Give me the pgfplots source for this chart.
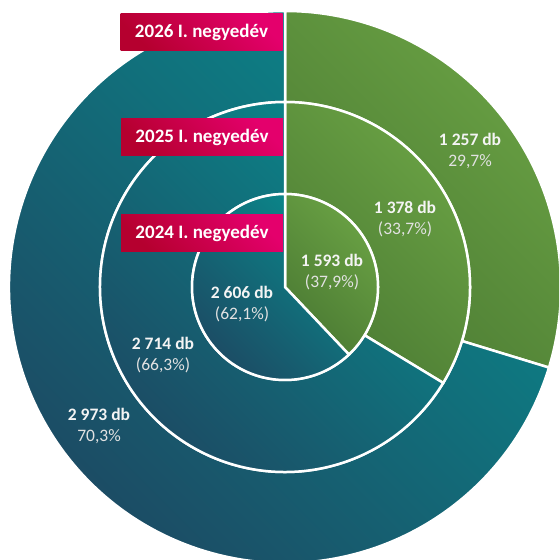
\documentclass[border=0pt]{standalone}
\usepackage{pgfplots}
\pgfplotsset{compat=1.18}
\usepackage{pgfplotstable}
\usepackage{fontspec}
\setmainfont{Carlito}
\definecolor{gL}{HTML}{6AA244}
\definecolor{gD}{HTML}{4B7A33}
\definecolor{tL}{HTML}{0A878A}
\definecolor{tD}{HTML}{1D4862}
\definecolor{rL}{HTML}{E4006C}
\definecolor{rD}{HTML}{B5002F}
\definecolor{lbl}{HTML}{F4F4F4}
\definecolor{lbp}{HTML}{E2E2E2}

% ring: 0 = 2024 (inner), 1 = 2025 (middle), 2 = 2026 (outer)
\pgfplotstableread{
ring green teal
0 1593 2606
1 1378 2714
2 1257 2973
}\rings

\begin{document}
\begin{tikzpicture}
\pgfplotstablegetelem{0}{green}\of\rings\pgfmathsetmacro\gA{\pgfplotsretval}
\pgfplotstablegetelem{0}{teal}\of\rings\pgfmathsetmacro\tA{\pgfplotsretval}
\pgfplotstablegetelem{1}{green}\of\rings\pgfmathsetmacro\gB{\pgfplotsretval}
\pgfplotstablegetelem{1}{teal}\of\rings\pgfmathsetmacro\tB{\pgfplotsretval}
\pgfplotstablegetelem{2}{green}\of\rings\pgfmathsetmacro\gC{\pgfplotsretval}
\pgfplotstablegetelem{2}{teal}\of\rings\pgfmathsetmacro\tC{\pgfplotsretval}
\pgfmathsetmacro\aA{90-360*(\gA/(\gA+\tA))}
\pgfmathsetmacro\aB{90-360*(\gB/(\gB+\tB))}
\pgfmathsetmacro\aC{90-360*(\gC/(\gC+\tC))}
\begin{axis}[width=559bp,height=560bp,scale only axis,
  xmin=-285,xmax=274,ymin=-273,ymax=287,hide axis,clip=true]
\clip (rel axis cs:0,0) rectangle (rel axis cs:1,1);
\tikzset{seg/.style={draw=white,line width=2.5bp},
  grn/.style={seg,top color=gL,bottom color=gD,shading angle=-45},
  tea/.style={seg,top color=tL,bottom color=tD,shading angle=-45}}
% outer ring (2026)
\shadedraw[grn] (axis cs:0,0) ++(90:276bp)
  arc[start angle=90,end angle=\aC,radius=276bp] -- ++(\aC:-91bp)
  arc[start angle=\aC,end angle=90,radius=185bp] -- cycle;
\shadedraw[tea] (axis cs:0,0) ++(\aC:276bp)
  arc[start angle=\aC,end angle=-270,radius=276bp] -- ++(-270:-91bp)
  arc[start angle=-270,end angle=\aC,radius=185bp] -- cycle;
% middle ring (2025)
\shadedraw[grn] (axis cs:0,0) ++(90:185bp)
  arc[start angle=90,end angle=\aB,radius=185bp] -- ++(\aB:-92bp)
  arc[start angle=\aB,end angle=90,radius=93bp] -- cycle;
\shadedraw[tea] (axis cs:0,0) ++(\aB:185bp)
  arc[start angle=\aB,end angle=-270,radius=185bp] -- ++(-270:-92bp)
  arc[start angle=-270,end angle=\aB,radius=93bp] -- cycle;
% inner pie (2024)
\shadedraw[grn] (axis cs:0,0) -- ++(90:93bp)
  arc[start angle=90,end angle=\aA,radius=93bp] -- cycle;
\shadedraw[tea] (axis cs:0,0) -- ++(\aA:93bp)
  arc[start angle=\aA,end angle=-270,radius=93bp] -- cycle;
% data labels
\tikzset{dl/.style={font=\fontsize{17.5bp}{21bp}\selectfont,text=lbl,align=center,inner sep=0pt}}
\node[dl] at (axis cs:185,136.5) {\textbf{1 257 db}\\\textcolor{lbp}{29,7\%}};
\node[dl] at (axis cs:-186,-138.5) {\textbf{2 973 db}\\\textcolor{lbp}{70,3\%}};
\node[dl] at (axis cs:120,68) {\textbf{1 378 db}\\\textcolor{lbp}{(33,7\%)}};
\node[dl] at (axis cs:-122,-68.5) {\textbf{2 714 db}\\\textcolor{lbp}{(66,3\%)}};
\node[dl] at (axis cs:47,15) {\textbf{1 593 db}\\\textcolor{lbp}{(37,9\%)}};
\node[dl] at (axis cs:-43,-17.5) {\textbf{2 606 db}\\\textcolor{lbp}{(62,1\%)}};
% ring titles
\tikzset{bx/.style={top color=rL,bottom color=rD,shading angle=-45,minimum width=162bp,minimum height=37bp,inner sep=0pt,text=white,font=\bfseries\fontsize{19bp}{23bp}\selectfont}}
\node[bx] at (axis cs:-83.5,254.5) {2026 I. negyedév};
\node[bx] at (axis cs:-83,150) {2025 I. negyedév};
\node[bx] at (axis cs:-83,53.5) {2024 I. negyedév};
\end{axis}
\end{tikzpicture}
\end{document}
